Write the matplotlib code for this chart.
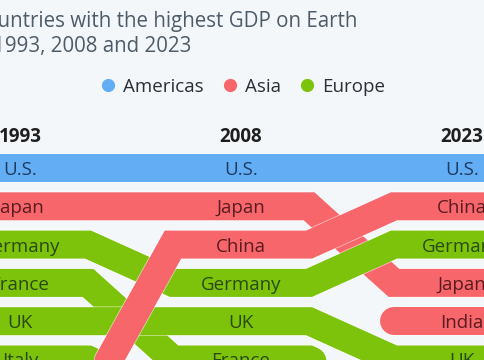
import matplotlib
matplotlib.use("Agg")
import matplotlib.pyplot as plt
import matplotlib.patheffects as pe
from matplotlib.lines import Line2D

plt.rcParams['font.family'] = ['Open Sans', 'DejaVu Sans']

# datos: ranking por año (1 = mayor PIB)
years = ['1993', '2008', '2023']
rank_1993 = ['U.S.', 'Japan', 'Germany', 'France', 'UK', 'Italy', 'China', 'Canada', 'Spain', 'Brazil']
rank_2008 = ['U.S.', 'Japan', 'China', 'Germany', 'UK', 'France', 'Italy', 'Brazil', 'Russia', 'Spain']
rank_2023 = ['U.S.', 'China', 'Germany', 'Japan', 'India', 'UK', 'France', 'Italy', 'Brazil', 'Canada']
rankings = [rank_1993, rank_2008, rank_2023]

region_of = {
    'U.S.': 'Americas', 'Canada': 'Americas', 'Brazil': 'Americas',
    'Japan': 'Asia', 'China': 'Asia', 'India': 'Asia',
    'Germany': 'Europe', 'France': 'Europe', 'UK': 'Europe', 'Italy': 'Europe',
    'Spain': 'Europe', 'Russia': 'Europe',
}
region_names = ['Americas', 'Asia', 'Europe']
band_color = {'Americas': '#63adf5', 'Asia': '#f7666b', 'Europe': '#7dc30b'}
text_color = {'Americas': '#1d3b5e', 'Asia': '#5a1c20', 'Europe': '#284a0c'}

BG = '#f4f7fa'
PX_COL = 221.0      # pixeles entre columnas
PX_ROW = 38.3       # pixeles entre filas
flat = 0.308        # mitad del tramo plano en cada columna
lw = 28 * 72 / 100  # grosor de banda (28 px)

fig = plt.figure(figsize=(4.85, 3.6), dpi=100)
fig.patch.set_facecolor(BG)
ax = fig.add_axes([0, 0, 1, 1])
ax.set_facecolor(BG)
ax.axis('off')
ax.set_xlim(-20 / PX_COL, 2 + 23 / PX_COL)
ax.set_ylim(1 + 192 / PX_ROW, 1 - 168 / PX_ROW)

# orden de dibujo: los mejor clasificados en 2023 quedan encima
countries = []
for lst in rankings:
    for c in lst:
        if c not in countries:
            countries.append(c)
countries.sort(key=lambda c: -(rank_2023.index(c) + 1) if c in rank_2023 else -100)

for c in countries:
    xs, ys = [], []
    segs = []
    for i, lst in enumerate(rankings):
        if c in lst:
            r = lst.index(c) + 1
            xs += [i - flat, i + flat]
            ys += [r, r]
        elif xs:
            segs.append((xs, ys))
            xs, ys = [], []
    if xs:
        segs.append((xs, ys))
    for sx, sy in segs:
        ax.plot(sx, sy, color=band_color[region_of[c]], lw=lw,
                solid_joinstyle='miter', solid_capstyle='round',
                path_effects=[pe.Stroke(linewidth=lw + 1.2, foreground='white', alpha=0.55),
                              pe.Normal()])

# etiquetas de países
for i, lst in enumerate(rankings):
    for j, c in enumerate(lst):
        ax.text(i, j + 1, c, ha='center', va='center_baseline', fontsize=13.5,
                color=text_color[region_of[c]])
    ax.text(i, 1 + (135 - 168) / PX_ROW, years[i], ha='center', va='center_baseline',
            fontsize=13.5, fontweight='bold', color='#1f1f1f')

# leyenda
handles = [Line2D([], [], ls='none', marker='o', markersize=9.5,
                  markerfacecolor=band_color[r], markeredgecolor='none', label=r)
           for r in region_names]
ax.legend(handles=handles, loc='center', bbox_to_anchor=(243 / 485, 1 - 87 / 360),
          ncol=3, frameon=False, fontsize=13.5, handletextpad=0.4,
          columnspacing=1.0, handlelength=0.8, labelcolor='#2b2f36')

# título
fig.text(357 / 485, 1 - 27 / 360, 'The 10 countries with the highest GDP on Earth',
         ha='right', va='baseline', fontsize=14.8, color='#4e5b69')
fig.text(191 / 485, 1 - 52 / 360, 'in 1993, 2008 and 2023',
         ha='right', va='baseline', fontsize=14.8, color='#4e5b69')

fig.savefig('out.png', dpi=100, facecolor=BG)
